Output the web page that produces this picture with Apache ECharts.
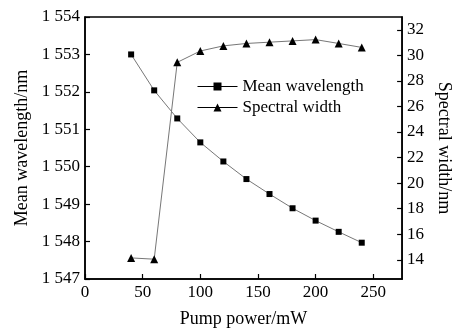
<!DOCTYPE html>
<html>
<head>
<meta charset="utf-8">
<script src="https://cdn.jsdelivr.net/npm/echarts@6/dist/echarts.min.js"></script>
<style>
  html, body { margin: 0; padding: 0; background: #fff; }
  #chart { width: 461px; height: 333px; }
</style>
</head>
<body>
<div id="chart"></div>
<script>
var pumpPower = [40, 60, 80, 100, 120, 140, 160, 180, 200, 220, 240];
var meanWavelength = [1553.0, 1552.04, 1551.29, 1550.65, 1550.14, 1549.67, 1549.27, 1548.89, 1548.56, 1548.26, 1547.97];
var spectralWidth = [14.15, 14.05, 29.45, 30.34, 30.74, 30.93, 31.03, 31.13, 31.23, 30.93, 30.62];
var xTicks = [0, 50, 100, 150, 200, 250];
var widthTicks = [14, 16, 18, 20, 22, 24, 26, 28, 30, 32];

var font = 'Liberation Serif';

function pairs(xs, ys) {
  return xs.map(function (x, i) { return [x, ys[i]]; });
}

// "1554" -> "1 554"
function spaced(v) {
  return String(v).replace(/^(\d)(\d{3})$/, '$1 $2');
}

var chart = echarts.init(document.getElementById('chart'));

var axisLine = { show: true, lineStyle: { color: '#000', width: 1.5 } };
var axisTick = { show: true, inside: true, length: 5, lineStyle: { color: '#000', width: 1.2 } };
var label = { color: '#000', fontFamily: font, fontSize: 17 };
var nameStyle = { color: '#000', fontFamily: font, fontSize: 18 };

chart.setOption({
  animation: false,
  backgroundColor: '#fff',
  grid: {
    left: 85, right: 54, top: 17, bottom: 49,
    show: true, borderColor: '#000', borderWidth: 1.5
  },
  legend: {
    orient: 'vertical',
    left: 197, top: 78,
    padding: 0,
    itemWidth: 40, itemHeight: 10, itemGap: 4,
    textStyle: { color: '#000', fontFamily: font, fontSize: 17 },
    lineStyle: { color: '#000', width: 1 },
    data: ['Mean wavelength', 'Spectral width']
  },
  xAxis: {
    type: 'value',
    min: 0, max: 275,
    name: 'Pump power/mW',
    nameLocation: 'middle',
    nameGap: 31,
    nameTextStyle: nameStyle,
    axisLine: axisLine,
    axisTick: Object.assign({ customValues: xTicks }, axisTick),
    axisLabel: Object.assign({ customValues: xTicks, margin: 5 }, label),
    splitLine: { show: false }
  },
  yAxis: [{
    type: 'value',
    min: 1547, max: 1554, interval: 1,
    name: 'Mean wavelength/nm',
    nameLocation: 'middle',
    nameGap: 54,
    nameTextStyle: nameStyle,
    axisLine: axisLine,
    axisTick: axisTick,
    axisLabel: Object.assign({ margin: 5, formatter: spaced }, label),
    splitLine: { show: false }
  }, {
    type: 'value',
    position: 'right',
    min: 12.5, max: 33,
    name: 'Spectral width/nm',
    nameLocation: 'middle',
    nameRotate: -90,
    nameGap: 31,
    nameTextStyle: nameStyle,
    axisLine: axisLine,
    axisTick: Object.assign({ customValues: widthTicks }, axisTick),
    axisLabel: Object.assign({ customValues: widthTicks, margin: 5 }, label),
    splitLine: { show: false }
  }],
  series: [{
    name: 'Mean wavelength',
    type: 'line',
    yAxisIndex: 0,
    data: pairs(pumpPower, meanWavelength),
    symbol: 'rect',
    symbolSize: 6,
    itemStyle: { color: '#000' },
    lineStyle: { color: '#777', width: 1 }
  }, {
    name: 'Spectral width',
    type: 'line',
    yAxisIndex: 1,
    data: pairs(pumpPower, spectralWidth),
    symbol: 'triangle',
    symbolSize: 8,
    itemStyle: { color: '#000' },
    lineStyle: { color: '#777', width: 1 }
  }]
});
</script>
</body>
</html>
